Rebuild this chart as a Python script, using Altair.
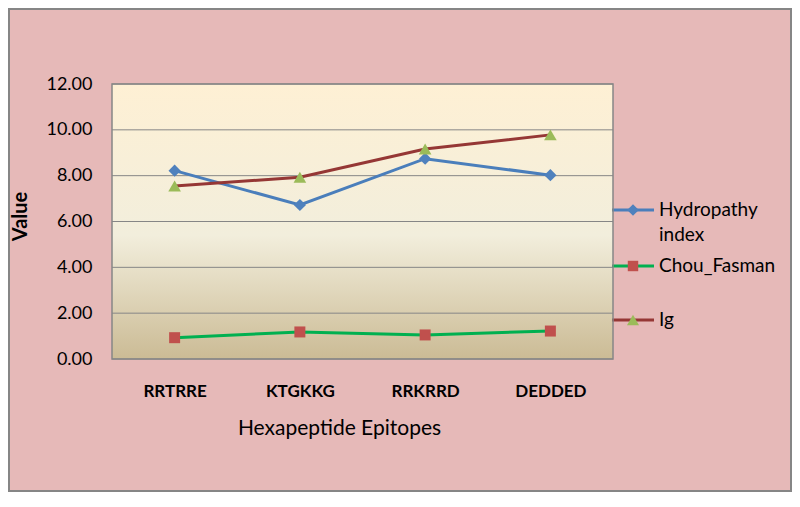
import altair as alt
import pandas as pd

categories = ["RRTRRE", "KTGKKG", "RRKRRD", "DEDDED"]
hydropathy = [8.22, 6.72, 8.74, 8.02]
chou_fasman = [0.93, 1.18, 1.05, 1.22]
ig = [7.55, 7.93, 9.16, 9.78]
series_names = ["Hydropathy index", "Chou_Fasman", "Ig"]
y_ticks = [0, 2, 4, 6, 8, 10, 12]

W, H = 501, 275
FONT = "Lato"
BG = "#E6B9B8"
GRID = "#868686"

rows = []
for name, vals in zip(series_names, [hydropathy, chou_fasman, ig]):
    for c, v in zip(categories, vals):
        rows.append({"epitope": c, "series": name, "value": v})
df = pd.DataFrame(rows)
grid_df = pd.DataFrame({"value": y_ticks})

styles = {
    "Hydropathy index": dict(line="#4A7EBB", marker="#4F81BD", shape="diamond", size=150),
    "Chou_Fasman": dict(line="#00B050", marker="#C0504D", shape="square", size=121),
    "Ig": dict(line="#953735", marker="#9BBB59", shape="triangle-up", size=160),
}

x_enc = alt.X(
    "epitope:N",
    sort=categories,
    scale=alt.Scale(type="point", padding=0.5),
    axis=alt.Axis(
        title="Hexapeptide Epitopes",
        labelAngle=0,
        labelFont=FONT,
        labelFontSize=17,
        labelFontWeight="bold",
        labelColor="#000000",
        labelPadding=24,
        ticks=False,
        domain=False,
        grid=False,
        titleFont=FONT,
        titleFontSize=21,
        titleFontWeight="normal",
        titleColor="#000000",
        titlePadding=18,
        titleX=227,
    ),
)
y_enc = alt.Y(
    "value:Q",
    scale=alt.Scale(domain=[0, 12], nice=False),
    axis=alt.Axis(
        title="Value",
        values=y_ticks,
        format=".2f",
        labelFont=FONT,
        labelFontSize=18,
        labelColor="#000000",
        labelPadding=20,
        ticks=False,
        domain=False,
        grid=False,
        titleFont=FONT,
        titleFontSize=20,
        titleFontWeight="bold",
        titleColor="#000000",
        titleX=-92,
        titleY=132,
        titleBaseline="middle",
        titleAngle=270,
    ),
)

layers = []

# plot-area gradient background
layers.append(
    alt.Chart(grid_df).transform_filter(alt.datum.value == 0).mark_rect(
        color=alt.LinearGradient(
            gradient="linear",
            x1=0, x2=0, y1=0, y2=1,
            stops=[
                alt.GradientStop(offset=0, color="#FEF0D4"),
                alt.GradientStop(offset=0.55, color="#F2EEDC"),
                alt.GradientStop(offset=1, color="#CBBB95"),
            ],
        )
    ).encode(x=alt.value(0), x2=alt.value(W), y=alt.value(0), y2=alt.value(H))
)

# horizontal gridlines
layers.append(
    alt.Chart(grid_df).mark_rule(color=GRID, strokeWidth=1).encode(y=y_enc)
)

base = alt.Chart(df)
for name in series_names:
    st = styles[name]
    sub = base.transform_filter(alt.datum.series == name)
    layers.append(
        sub.mark_line(color=st["line"], strokeWidth=3).encode(x=x_enc, y=y_enc)
    )
for name in series_names:
    st = styles[name]
    sub = base.transform_filter(alt.datum.series == name)
    layers.append(
        sub.mark_point(
            shape=st["shape"], size=st["size"], filled=True,
            color=st["marker"], opacity=1, strokeWidth=0,
        ).encode(x=x_enc, y=y_enc)
    )

# custom legend (right of plot)
leg_df = pd.DataFrame({"series": series_names})
leg_y = {"Hydropathy index": 126, "Chou_Fasman": 182, "Ig": 236}
leg_lines = {"Hydropathy index": ["Hydropathy", "index"], "Chou_Fasman": ["Chou_Fasman"], "Ig": ["Ig"]}
for name in series_names:
    st = styles[name]
    one = alt.Chart(leg_df).transform_filter(alt.datum.series == name)
    yy = leg_y[name]
    layers.append(
        one.mark_rule(color=st["line"], strokeWidth=3).encode(
            x=alt.value(500), x2=alt.value(542), y=alt.value(yy)
        )
    )
    layers.append(
        one.mark_point(
            shape=st["shape"], size=st["size"] * 0.9, filled=True,
            color=st["marker"], opacity=1, strokeWidth=0,
        ).encode(x=alt.value(521), y=alt.value(yy))
    )
    for i, txt in enumerate(leg_lines[name]):
        layers.append(
            one.mark_text(
                text=txt, align="left", baseline="middle",
                font=FONT, fontSize=19, color="#000000",
            ).encode(x=alt.value(547), y=alt.value(yy + 25 * i))
        )

# plot-area border
layers.append(
    alt.Chart(leg_df).transform_filter(alt.datum.series == "Ig").mark_rect(
        fill=None, stroke=GRID, strokeWidth=1.5
    ).encode(x=alt.value(0), x2=alt.value(W), y=alt.value(0), y2=alt.value(H))
)

# outer border of the chart
layers.append(
    alt.Chart(leg_df).transform_filter(alt.datum.series == "Ig").mark_rect(
        fill=None, stroke=GRID, strokeWidth=2
    ).encode(x=alt.value(-103), x2=alt.value(W + 178), y=alt.value(-75), y2=alt.value(H + 132))
)

chart = (
    alt.layer(*layers)
    .properties(
        width=W,
        height=H,
        background=BG,
        padding={"left": 104, "top": 76, "right": 179, "bottom": 133},
        autosize=alt.AutoSizeParams(type="none"),
    )
    .configure_view(stroke=None)
)

chart.save("out.html", embed_options={"renderer": "svg", "actions": False})
